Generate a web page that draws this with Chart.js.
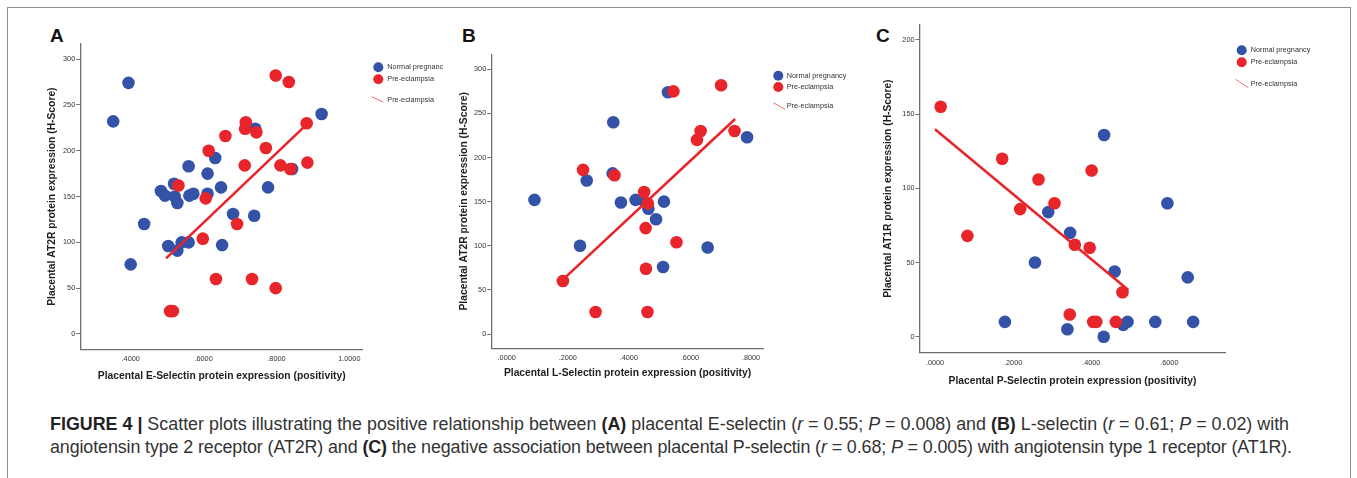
<!DOCTYPE html>
<html><head><meta charset="utf-8">
<script src="https://cdn.jsdelivr.net/npm/chart.js@4.4.1/dist/chart.umd.min.js"></script>
<style>
html,body{margin:0;padding:0;background:#fff;width:1357px;height:478px;overflow:hidden;font-family:"Liberation Sans",Arial,sans-serif;}
#frame{position:absolute;left:7px;top:7px;width:1342px;height:490px;border:1px solid #8f8f8f;border-bottom:none;}
canvas{position:absolute;}
.lbl{position:absolute;font-weight:bold;font-size:19px;color:#111;line-height:19px;}
#cap{position:absolute;left:50px;top:413px;color:#333;font-size:15.3px;line-height:23px;white-space:nowrap;}
#cap b{color:#222;}
</style></head><body>
<div id="frame"></div>
<div class="lbl" style="left:50px;top:26px">A</div>
<div class="lbl" style="left:462px;top:26px">B</div>
<div class="lbl" style="left:876px;top:26px">C</div>
<canvas id="cA"></canvas>
<canvas id="cB"></canvas>
<canvas id="cC"></canvas>
<div id="cap"><div id="l1"><b>FIGURE 4 |</b> Scatter plots illustrating the positive relationship between <b>(A)</b> placental E-selectin (<i>r</i> = 0.55; <i>P</i> = 0.008) and <b>(B)</b> L-selectin (<i>r</i> = 0.61; <i>P</i> = 0.02) with</div><div id="l2">angiotensin type 2 receptor (AT2R) and <b>(C)</b> the negative association between placental P-selectin (<i>r</i> = 0.68; <i>P</i> = 0.005) with angiotensin type 1 receptor (AT1R).</div></div>
<script>
// ---------- DATA ----------
// Panel A: E-selectin vs AT2R
const aNormalX = [0.352,0.394,0.400,0.437,0.483,0.494,0.519,0.521,0.528,0.503,0.528,0.540,0.559,0.559,0.561,0.572,0.611,0.611,0.632,0.648,0.651,0.681,0.739,0.742,0.777,0.843,0.924];
const aNormalY = [232,274,76,120,156,151,164,150,143,96,91,100,100,183,151,153,175,153,192,160,97,131,129,224,160,180,240];
const aPreX = [0.508,0.516,0.531,0.598,0.606,0.614,0.634,0.660,0.692,0.714,0.716,0.713,0.733,0.745,0.771,0.798,0.798,0.811,0.834,0.838,0.883,0.885];
const aPreY = [25,25,162,104,148,200,60,216,120,224,231,184,60,220,203,282,50,184,275,180,230,187];
const aFitX = [0.497,0.876];
const aFitY = [82.5,226];
const aXTicks = [0.4,0.6,0.8,1.0];
const aYTicks = [0,50,100,150,200,250,300];

// Panel B: L-selectin vs AT2R
const bNormalX = [0.091,0.240,0.262,0.349,0.347,0.374,0.422,0.445,0.464,0.489,0.515,0.512,0.528,0.658,0.787];
const bNormalY = [152,100,174,240,182,149,152,152,142,130,150,76,274,98,223];
const bPreX = [0.184,0.250,0.291,0.353,0.450,0.462,0.455,0.456,0.461,0.556,0.546,0.623,0.635,0.702,0.746];
const bPreY = [60,186,25,180,161,148,120,74,25,104,275,220,230,282,230];
const bFitX = [0.184,0.748];
const bFitY = [61.6,243.7];
const bXTicks = [0,0.2,0.4,0.6,0.8];
const bYTicks = [0,50,100,150,200,250,300];

// Panel C: P-selectin vs AT1R
const cNormalX = [0.179,0.256,0.290,0.339,0.346,0.433,0.432,0.460,0.482,0.493,0.564,0.595,0.647,0.661];
const cNormalY = [10,50,84,5,70,136,0,44,8,10,10,90,40,10];
const cPreX = [0.0145,0.083,0.172,0.218,0.265,0.306,0.345,0.358,0.396,0.401,0.405,0.413,0.463,0.480];
const cPreY = [155,68,120,86,106,90,15,62,60,112,10,10,10,30];
const cFitX = [0.0,0.495];
const cFitY = [139.8,31.5];
const cXTicks = [0,0.2,0.4,0.6];
const cYTicks = [0,50,100,150,200];

const legendNormalA = 'Normal pregnanc';
const legendNormal = 'Normal pregnancy';
const legendPre = 'Pre-eclampsia';

// ---------- STYLE ----------
const BLUE = '#3453a8';
const RED = '#e8252b';
const AXIS = '#707070';
const FAM = '"Liberation Sans", Arial, sans-serif';
const pts = (xs, ys) => xs.map((x, i) => ({x, y: ys[i]}));
const fmtX = v => { const s = Number(v).toFixed(4); return s.startsWith('0') ? s.slice(1) : s; };

function panel(id, cfg) {
  const cv = document.getElementById(id);
  const b = cfg.box;
  cv.width = b.w; cv.height = b.h;
  cv.style.left = b.x + 'px'; cv.style.top = b.y + 'px';
  cv.style.width = b.w + 'px'; cv.style.height = b.h + 'px';
  const a = cfg.area;
  const titleSize = 10.3, lh = titleSize * 1.2;
  const yW = a.l - b.x, xH = (b.y + b.h) - a.b;
  const ytPad = (cfg.ytc - b.x) - lh / 2;
  const xtPad = (b.y + b.h - cfg.xtc) - lh / 2;
  const lg = cfg.legend;
  const legendPlugin = {
    id: 'lg_' + id,
    afterDraw(chart) {
      const ctx = chart.ctx;
      ctx.save();
      ctx.font = '7.3px ' + FAM;
      ctx.textBaseline = 'middle';
      ctx.fillStyle = BLUE;
      ctx.beginPath(); ctx.arc(lg.dx - b.x, lg.y1 - b.y, 5, 0, Math.PI * 2); ctx.fill();
      ctx.fillStyle = RED;
      ctx.beginPath(); ctx.arc(lg.dx - b.x, lg.y2 - b.y, 5, 0, Math.PI * 2); ctx.fill();
      ctx.strokeStyle = '#f07070'; ctx.lineWidth = 1;
      ctx.beginPath(); ctx.moveTo(lg.l1[0] - b.x, lg.l1[1] - b.y); ctx.lineTo(lg.l2[0] - b.x, lg.l2[1] - b.y); ctx.stroke();
      ctx.fillStyle = '#333';
      ctx.fillText(lg.normal, lg.tx - b.x, lg.y1 - b.y);
      ctx.fillText(legendPre, lg.tx - b.x, lg.y2 - b.y);
      ctx.fillText(legendPre, lg.tx - b.x, lg.y3 - b.y);
      ctx.restore();
    }
  };
  new Chart(cv, {
    type: 'scatter',
    data: { datasets: [
      { label: 'fit', data: pts(cfg.fitX, cfg.fitY), showLine: true, borderColor: RED, borderWidth: 2.6, pointRadius: 0, fill: false, order: 0 },
      { label: legendPre, data: pts(cfg.preX, cfg.preY), backgroundColor: RED, borderWidth: 0, pointRadius: 6.3, pointHoverRadius: 6.3, order: 1 },
      { label: legendNormal, data: pts(cfg.norX, cfg.norY), backgroundColor: BLUE, borderWidth: 0, pointRadius: 6.3, pointHoverRadius: 6.3, order: 2 }
    ]},
    options: {
      responsive: false, animation: false, devicePixelRatio: window.devicePixelRatio || 1,
      layout: { padding: { left: 0, top: a.t - b.y, right: (b.x + b.w) - a.r, bottom: 0 } },
      plugins: { legend: { display: false }, tooltip: { enabled: false } },
      events: [],
      scales: {
        x: {
          type: 'linear', min: cfg.xr[0], max: cfg.xr[1],
          afterBuildTicks: s => { s.ticks = cfg.xTicks.map(v => ({ value: v })); },
          afterFit: s => { s.height = xH; },
          grid: { display: false, drawTicks: false },
          border: { display: true, color: AXIS, width: 1.3 },
          ticks: { font: { size: 7.3, family: FAM }, color: '#333', padding: cfg.xtp, maxRotation: 0, autoSkip: false, callback: v => fmtX(v) },
          title: { display: true, text: cfg.xTitle, color: '#1e1e1e', font: { size: titleSize, weight: 'bold', family: FAM, lineHeight: 1.2 }, padding: { top: 0, bottom: xtPad } }
        },
        y: {
          type: 'linear', min: cfg.yr[0], max: cfg.yr[1],
          afterBuildTicks: s => { s.ticks = cfg.yTicks.map(v => ({ value: v })); },
          afterFit: s => { s.width = yW; },
          grid: { display: true, drawOnChartArea: false, drawTicks: true, tickLength: 4.5, color: AXIS, lineWidth: 1 },
          border: { display: true, color: AXIS, width: 1.3 },
          ticks: { font: { size: 7.3, family: FAM }, color: '#333', padding: 1, autoSkip: false, callback: v => String(v) },
          title: { display: true, text: cfg.yTitle, color: '#1e1e1e', font: { size: titleSize, weight: 'bold', family: FAM, lineHeight: 1.2 }, padding: { top: ytPad, bottom: 0 } }
        }
      }
    },
    plugins: [legendPlugin]
  });
}

panel('cA', {
  box: { x: 15, y: 12, w: 440, h: 380 },
  area: { l: 80.7, t: 44, r: 362.7, b: 349.3 },
  ytc: 51.7, xtc: 376, xtp: 5,
  xr: [0.2628, 1.0368], yr: [-16.7, 316.4],
  xTicks: aXTicks, yTicks: aYTicks,
  xTitle: 'Placental E-Selectin protein expression (positivity)',
  yTitle: 'Placental AT2R protein expression (H-Score)',
  norX: aNormalX, norY: aNormalY, preX: aPreX, preY: aPreY, fitX: aFitX, fitY: aFitY,
  legend: { dx: 378.3, y1: 67.3, y2: 79.3, y3: 100, tx: 387.3, l1: [371.7, 96.7], l2: [383.3, 102.3], normal: legendNormalA }
});
panel('cB', {
  box: { x: 455, y: 12, w: 415, h: 380 },
  area: { l: 491.7, t: 54.3, r: 763.3, b: 348.3 },
  ytc: 464.3, xtc: 373.3, xtp: 5,
  xr: [-0.0491, 0.8402], yr: [-16.2, 317.0],
  xTicks: bXTicks, yTicks: bYTicks,
  xTitle: 'Placental L-Selectin protein expression (positivity)',
  yTitle: 'Placental AT2R protein expression (H-Score)',
  norX: bNormalX, norY: bNormalY, preX: bPreX, preY: bPreY, fitX: bFitX, fitY: bFitY,
  legend: { dx: 778.3, y1: 75.7, y2: 87, y3: 106.3, tx: 786.7, l1: [773.3, 102.7], l2: [785, 109.3], normal: legendNormal }
});
panel('cC', {
  box: { x: 870, y: 12, w: 478, h: 380 },
  area: { l: 920, t: 25, r: 1225, b: 352.3 },
  ytc: 888.3, xtc: 381, xtp: 6,
  xr: [-0.0384, 0.7425], yr: [-10.5, 210.1],
  xTicks: cXTicks, yTicks: cYTicks,
  xTitle: 'Placental P-Selectin protein expression (positivity)',
  yTitle: 'Placental AT1R protein expression (H-Score)',
  norX: cNormalX, norY: cNormalY, preX: cPreX, preY: cPreY, fitX: cFitX, fitY: cFitY,
  legend: { dx: 1241.7, y1: 50.3, y2: 62.3, y3: 84, tx: 1250.7, l1: [1235.7, 79.3], l2: [1248.3, 87.7], normal: legendNormal }
});

// fit caption lines to the reference widths
(function () {
  const l1 = document.getElementById('l1');
  const l2 = document.getElementById('l2');
  const cap = document.getElementById('cap');
  l1.style.display = 'inline-block';
  const w = l1.getBoundingClientRect().width;
  const fs = parseFloat(getComputedStyle(cap).fontSize);
  cap.style.fontSize = (fs * 1240 / w).toFixed(2) + 'px';
  l1.style.display = 'block';
  l2.style.display = 'inline-block';
  const w2 = l2.getBoundingClientRect().width;
  const n = l2.textContent.length;
  if (w2 > 1242) l2.style.letterSpacing = (-(w2 - 1242) / n).toFixed(3) + 'px';
  l2.style.display = 'block';
})();
</script>
</body></html>
